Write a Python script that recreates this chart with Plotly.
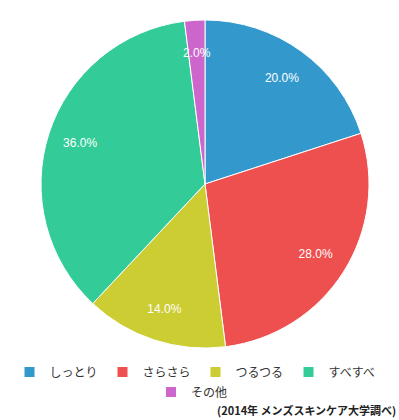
import plotly.graph_objects as go

labels = ["しっとり", "さらさら", "つるつる", "すべすべ", "その他"]
values = [20, 28, 14, 36, 2]
colors = ["#3399CC", "#EE4F4F", "#CCCC33", "#33CC99", "#CC66CC"]
legend_ids = ["legend", "legend", "legend", "legend", "legend2"]

W, H = 399, 420
CX, CY, R = 205, 184, 164


def domain(r):
    return dict(x=[(CX - r) / W, (CX + r) / W], y=[1 - (CY + r) / H, 1 - (CY - r) / H])


small = [v < 5 for v in values]
text_big = ["" if s else "%{percent:.1%}" for s in small]
text_small = ["%{percent:.1%}" if s else "" for s in small]

fig = go.Figure()
fig.add_trace(go.Pie(
    labels=labels, values=values, sort=False, direction="clockwise", rotation=0,
    marker=dict(colors=colors, line=dict(color="white", width=1)),
    textinfo="none", domain=domain(R), showlegend=False, hoverinfo="label+percent",
))
for r, tt in [(R, text_big), (R - 25, text_small)]:
    fig.add_trace(go.Pie(
        labels=labels, values=values, sort=False, direction="clockwise", rotation=0,
        hole=0.6, marker=dict(colors=["rgba(0,0,0,0)"] * len(values), line=dict(width=0)),
        texttemplate=tt, textposition="inside", insidetextorientation="horizontal",
        textfont=dict(color="white", size=12, family="Liberation Sans"),
        domain=domain(r), showlegend=False, hoverinfo="skip",
    ))
for lab, col, lg in zip(labels, colors, legend_ids):
    fig.add_trace(go.Scatter(
        x=[None], y=[None], mode="markers", name=lab, legend=lg,
        marker=dict(symbol="square", size=10, color=col), hoverinfo="skip",
    ))

leg_common = dict(orientation="h", xanchor="center", yanchor="middle",
                  entrywidth=48, entrywidthmode="pixels", font=dict(size=12, color="#333"),
                  itemwidth=30, bgcolor="rgba(0,0,0,0)")
fig.update_layout(
    width=W, height=H,
    margin=dict(l=0, r=0, t=0, b=0),
    paper_bgcolor="white", plot_bgcolor="white",
    font=dict(family="Noto Sans CJK JP", color="#333"),
    uniformtext=dict(minsize=12, mode="show"),
    xaxis=dict(visible=False, fixedrange=True), yaxis=dict(visible=False, fixedrange=True),
    legend=dict(x=0.49, y=1 - 372 / H, **leg_common),
    legend2=dict(x=0.495, y=1 - 392 / H, **leg_common),
    annotations=[dict(text="<b>(2014年 メンズスキンケア大学調べ)</b>", xref="paper", yref="paper",
                      x=0.998, y=1 - 410 / H, xanchor="right", yanchor="middle", showarrow=False,
                      font=dict(size=11, color="#222"))],
)
fig.write_html("out.html", config={"displayModeBar": False},
               post_script="document.body.style.margin='0';")
